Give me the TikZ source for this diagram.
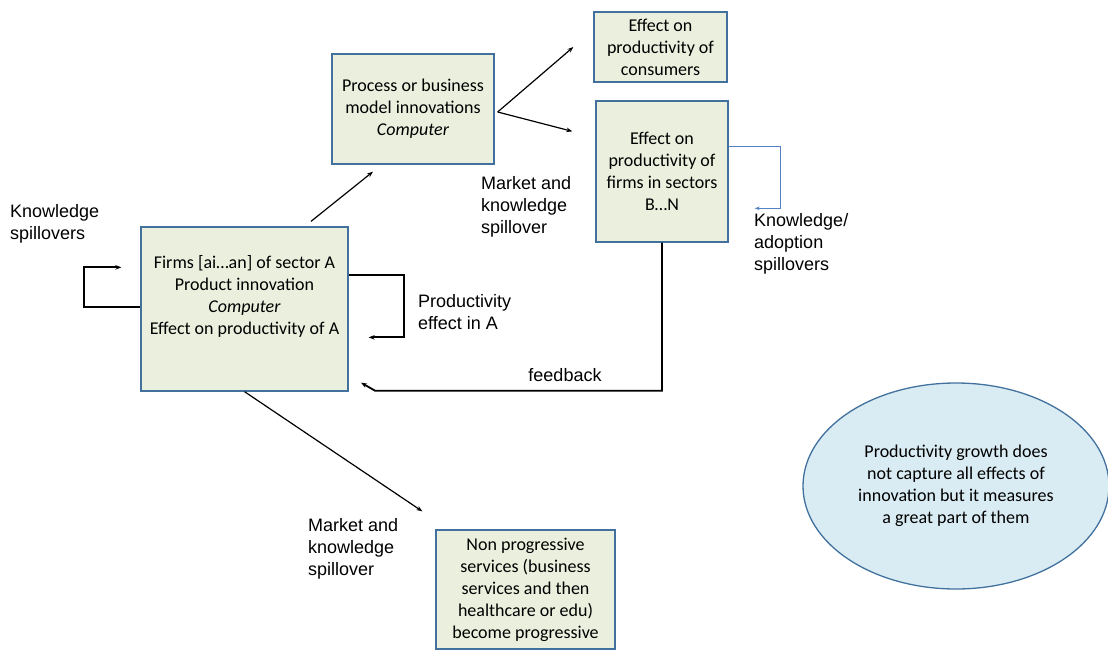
\documentclass[tikz,border=0pt]{standalone}
\usepackage{fontspec}
\setmainfont{Carlito}
\newfontfamily\arialfont{Liberation Sans}
\usetikzlibrary{arrows.meta,calc,shapes.geometric}
\definecolor{boxfill}{RGB}{235,240,222}
\definecolor{boxline}{RGB}{65,113,156}
\definecolor{ellfill}{RGB}{218,236,243}
\definecolor{loopblue}{RGB}{84,130,196}
\begin{document}
\begin{tikzpicture}[x=1pt,y=-1pt,
  box/.style={draw=boxline,line width=1.3pt,fill=boxfill,inner sep=0pt,
    align=center,font=\fontsize{18}{22}\selectfont},
  boxtext/.style={align=center,font=\fontsize{18}{22}\selectfont,inner sep=0pt},
  lbl/.style={align=left,font=\arialfont\fontsize{18}{22}\selectfont,inner sep=0pt,anchor=west},
  arr/.style={-{Stealth[length=6pt,width=4.5pt]},line width=1.2pt},
  looparr/.style={-{Stealth[length=6pt,width=4.5pt]},line width=1.8pt},
  bluearr/.style={-{Stealth[length=5pt,width=3.5pt]},line width=1.1pt,draw=loopblue},
]
\useasboundingbox (0,0) rectangle (1108,650);

% boxes
\node[box,minimum width=207pt,minimum height=164pt] (A) at (244.5,309) {};
\node[boxtext] (Atext) at (244.5,296) {Firms [ai\dots an] of sector A\\Product innovation\\\textit{Computer}\\Effect on productivity of A};
\node[box,minimum width=162pt,minimum height=110pt] (P) at (413,109)
  {Process or business\\model innovations\\\textit{Computer}};
\node[box,minimum width=133pt,minimum height=70pt] (C) at (660.5,47)
  {Effect on\\productivity of\\consumers};
\node[box,minimum width=132pt,minimum height=141pt] (B) at (662,171.5)
  {Effect on\\productivity of\\firms in sectors\\B\dots N};
\node[box,minimum width=179pt,minimum height=119pt] (N) at (525.5,589.5)
  {Non progressive\\services (business\\services and then\\healthcare or edu)\\become progressive};
\node[ellipse,draw=boxline,line width=1.3pt,fill=ellfill,minimum width=306pt,minimum height=206pt,
  inner sep=0pt,align=center,font=\fontsize{18}{22}\selectfont] (E) at (956,486)
  {Productivity growth does\\not capture all effects of\\innovation but it measures\\a great part of them};

% labels
\node[lbl] (l1) at (10,224) {Knowledge\\spillovers};
\node[lbl] (l2) at (481,207) {Market and\\knowledge\\spillover};
\node[lbl] (l3) at (754,244) {Knowledge/\\adoption\\spillovers};
\node[lbl] (l4) at (418,312) {Productivity\\effect in A};
\node[lbl,anchor=center] (l5) at (565,375) {feedback};
\node[lbl] (l6) at (308,549) {Market and\\knowledge\\spillover};

% connectors
\draw[arr] ($(A.north)+(66.5,-5)$) -- ($(P.south)+(-40,7)$);
\coordinate (Pout) at ($(P.east)+(3,3)$);
\draw[arr] (Pout) -- ($(C.west)+(-20,0)$);
\draw[arr] (Pout) -- ($(B.north west)+(-23,31)$);
\draw[looparr] ($(A.north east)+(0,49)$) -- ++(55,0) -- ++(0,62) -- ++(-35,0);
\draw[looparr] ($(A.north west)+(0,81)$) -- ++(-56,0) -- ++(0,-40) -- ++(37,0);
\draw[looparr] (B.south) -- ++(0,148) -- ++(-287,0) -- ++(-14,-8);
\draw[bluearr] ($(B.north east)+(0,46)$) -- ++(52,0) -- ++(0,62) -- ++(-26,0);
\draw[arr] (A.south) -- ($(N.north west)+(-13,-18)$);
\end{tikzpicture}
\end{document}
